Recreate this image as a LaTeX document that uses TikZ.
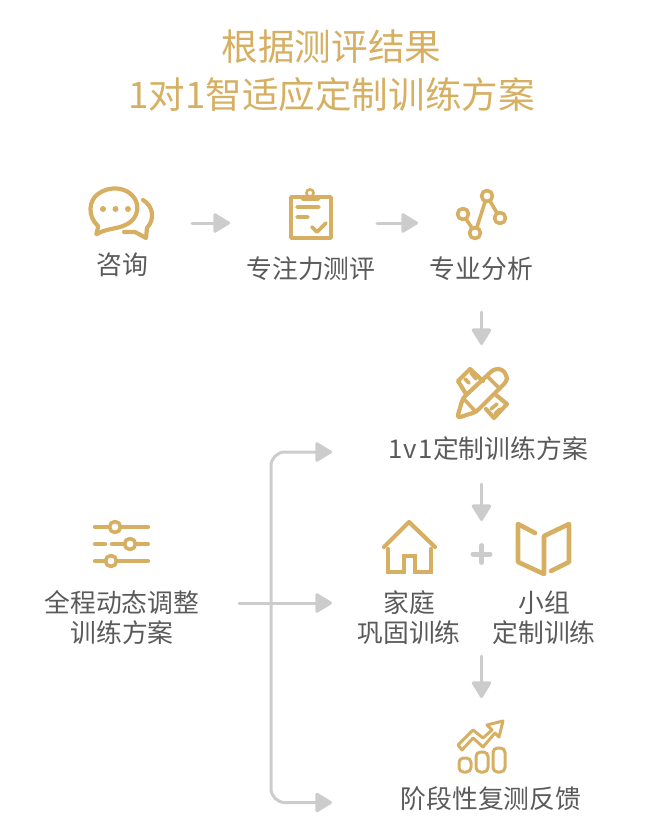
\documentclass[tikz,border=0pt]{standalone}
\usepackage{fontspec}
\setmainfont{Noto Sans CJK SC}
\usetikzlibrary{arrows.meta}
\definecolor{gold}{HTML}{D6AF62}
\definecolor{ink}{HTML}{5A5A5A}
\definecolor{arrowgray}{HTML}{CCCCCC}
\tikzset{
  flow/.style={draw=arrowgray,line width=3pt,line cap=round,-{Triangle[length=18pt,width=21pt,round]}},
  ic/.style={draw=gold,line width=4.2pt,line cap=round,line join=round},
  icthin/.style={draw=gold,line width=3.6pt,line cap=round,line join=round},
  slot/.style={inner sep=0pt,outer sep=0pt,minimum width=#1,minimum height=52pt},
  lbl/.style={text=ink,inner sep=0pt,align=center,font=\fontsize{25.8}{30}\selectfont},
  ttl/.style={text=gold,inner sep=0pt,align=center,font=\fontsize{36.6}{48}\selectfont}
}
\begin{document}
\begin{tikzpicture}[x=1pt,y=-1pt]
\useasboundingbox (0,0) rectangle (670,839);
\node[ttl] (title) at (331.5,71) {根据测评结果\\1对1智适应定制训练方案};
% icon anchors
\node[slot=64pt] (chat) at (122,213) {};
\node[slot=48pt] (clip) at (310,216) {};
\node[slot=52pt] (graph) at (481,214) {};
\node[slot=52pt] (pencil) at (481.5,394) {};
\node[slot=56pt] (house) at (409,548) {};
\node[slot=54pt] (book) at (544,549) {};
\node[slot=20pt] (plus) at (481.5,554) {};
\node[slot=52pt] (trend) at (481.5,746) {};
\node[slot=56pt] (slider) at (122,544) {};
% labels
\node[lbl] (l1) at (122,265) {咨询};
\node[lbl] (l2) at (311,269) {专注力测评};
\node[lbl] (l3) at (481.5,269) {专业分析};
\node[lbl] (l4) at (488,449) {1\kern1.5pt v\kern1.5pt 1定制训练方案};
\node[lbl] (l5) at (409,617.5) {家庭\\巩固训练};
\node[lbl] (l6) at (544,617.5) {小组\\定制训练};
\node[lbl] (l7) at (491,799) {阶段性复测反馈};
\node[lbl] (l8) at (122,617.5) {全程动态调整\\训练方案};
% chat icon
\draw[ic] (98,226) .. controls (87,216) and (89,200) .. (98,194) .. controls (110,185) and (128,187) .. (135,199) .. controls (141,210) and (135,222) .. (123,226) .. controls (115,229) and (105,229) .. (97,234) .. controls (95,235) and (98,231) .. (98,226) -- cycle;
\draw[ic] (143,200) .. controls (152,205) and (156,218) .. (147,228) -- (146,238) -- (135,232) -- (124,232);
\fill[gold] (103,209) circle (3) (115.5,209) circle (3) (128,209) circle (3);
% clipboard icon
\draw[icthin] (301,197) -- (291,197) -- (291,238) -- (331,238) -- (331,197) -- (320,197);
\draw[icthin,line width=3pt] (302,199) -- (318,199) -- (318,196) -- (302,196) -- cycle;
\draw[gold,line width=2.6pt] (310,193) circle (3.6);
\draw[icthin] (297,207) -- (319,207) (297,217) -- (308,217) (312,227) -- (317,232) -- (326,223);
% graph icon
\draw[icthin] (487,196) circle (5.5) (463,214) circle (5.5) (475,233) circle (5.5) (500,218) circle (5.5);
\draw[icthin] (485,202) -- (477,227) (490,201) -- (497,213) (466,219) -- (472,228);
% pencil & ruler icon
\draw[ic] (466,394) -- (458,381) -- (470,369) -- (483,381);
\draw[icthin] (465,379) -- (469,383) (471,373) -- (476,379);
\draw[ic] (496,395) -- (507,404) -- (494,418) -- (486,409);
\draw[icthin] (491,409) -- (497,404) (495,414) -- (500,409);
\draw[ic,rounded corners=3.5pt] (457,418) -- (463,398) -- (494,369) -- (502,369) -- (507,376) -- (507,381) -- (476,412) -- cycle;
\draw[icthin] (463,398) -- (476,412) (488,377) -- (500,389);
% house icon
\draw[ic] (384,547) -- (409,522) -- (435,547);
\draw[ic,line join=miter] (388,549) -- (388,572) -- (404,572) -- (404,556) -- (415,556) -- (415,572) -- (431,572) -- (431,549);
% book icon
\draw[ic,line width=4.6pt] (535,533) -- (518,524) -- (518,562) -- (544,574) -- (544,536) -- (569,524) -- (569,562) -- (551,571);
% plus
\draw[draw=arrowgray,line width=5pt,line cap=round] ([shift={(-8.5,0)}]plus.center) -- ([shift={(8.5,0)}]plus.center);
\draw[draw=arrowgray,line width=5pt,line cap=round] ([shift={(0,-8.5)}]plus.center) -- ([shift={(0,8.5)}]plus.center);
% trend icon
\draw[icthin,line width=3pt] (458,745) -- (473,730) -- (483,738) -- (492,730) -- (487,725) -- (503,721) -- (499,737) -- (495,733) -- (483,747) -- (473,738) -- (462,750) -- cycle;
\draw[icthin,rounded corners=4.5pt,line width=3pt] (459,758) rectangle (471,772) (476,752) rectangle (488,772) (493,748) rectangle (505,772);
% sliders
\draw[ic] (95,527) -- (148,527) (95,544) -- (105,544) (112,544) -- (148,544) (95,561) -- (148,561);
\draw[icthin,fill=white] (115,527) circle (5.5) (130,544) circle (5.5) (111,561) circle (5.5);
% connectors
\draw[flow] ([shift={(38,10)}]chat.east) -- ([shift={(-56,7)}]clip.west);
\draw[flow] ([shift={(43,7)}]clip.east) -- ([shift={(-37,9)}]graph.west);
\draw[flow] ([shift={(0.5,72)}]graph.south) -- ([shift={(0,-23)}]pencil.north);
\draw[flow] ([shift={(-6.5,35)}]l4.center) -- ([shift={(0,-33)}]plus.center);
\draw[flow] ([shift={(0,102)}]plus.center) -- ([shift={(0,-22)}]trend.north);
\draw[flow] ([shift={(117,-14.5)}]l8.center) -- ([shift={(-77,-14.5)}]l5.center);
\coordinate (bus) at ([shift={(149,-14.5)}]l8.center);
\draw[flow,rounded corners=14pt] (bus) |- ([shift={(-156,3)}]l4.center);
\draw[flow,rounded corners=14pt] (bus) |- ([shift={(-159,3.5)}]l7.center);
\end{tikzpicture}
\end{document}
